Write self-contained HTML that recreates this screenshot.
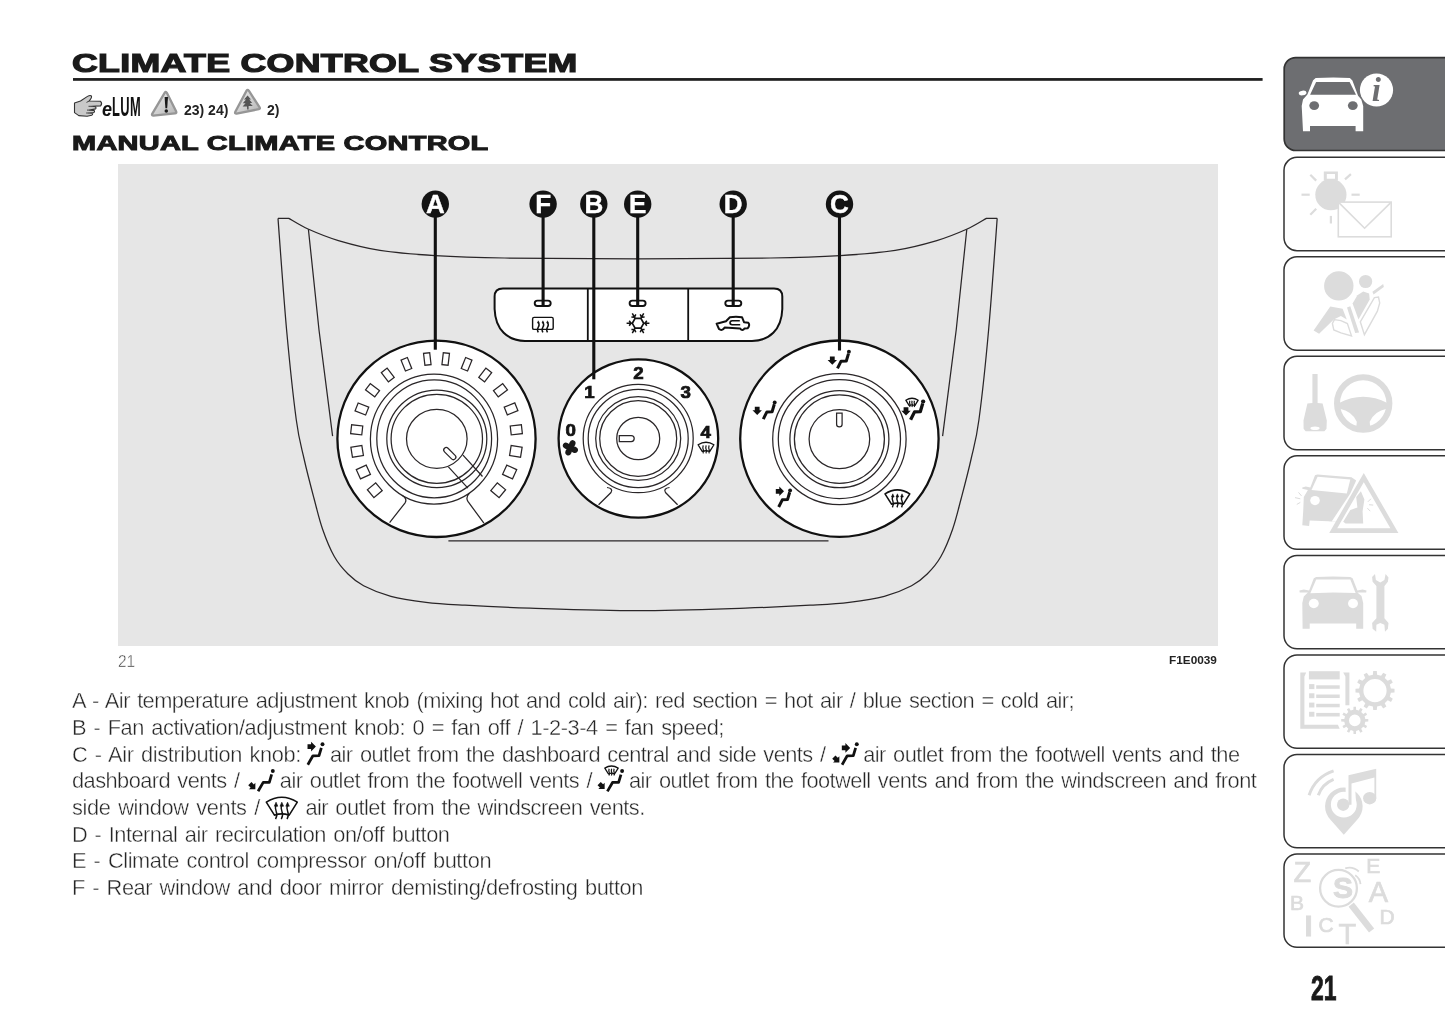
<!DOCTYPE html>
<html lang="en"><head><meta charset="utf-8"><title>Climate control system</title>
<style>
html,body{margin:0;padding:0;background:#fff;}
body{width:1445px;height:1026px;position:relative;overflow:hidden;}
#page{position:absolute;left:0;top:0;width:1445px;height:1026px;will-change:transform;font-family:"Liberation Sans",sans-serif;color:#1a1a1a;}
.abs{position:absolute;white-space:nowrap;}
h1,h2,p{margin:0;padding:0;font-weight:normal;}
#title{left:72.2px;top:47.3px;font-size:25.3px;line-height:32px;font-weight:bold;transform-origin:0 50%;transform:scaleX(1.414);-webkit-text-stroke:1.15px #1a1a1a;letter-spacing:0.2px;}
#sub{left:71.6px;top:130.3px;font-size:20.6px;line-height:26px;font-weight:bold;transform-origin:0 50%;transform:scaleX(1.405);-webkit-text-stroke:1.0px #1a1a1a;letter-spacing:0.2px;}
#fig{left:118px;top:164px;width:1100px;height:482px;background:#e6e6e6;}
.ref{font-size:14px;line-height:16px;font-weight:bold;color:#222;}
.cap{font-size:17.2px;line-height:18px;color:#333;-webkit-text-stroke:0.45px #fff;transform-origin:0 50%;transform:scaleX(0.9);}
.code{font-size:11.8px;line-height:14px;font-weight:bold;color:#222;}
.ln{font-size:21.80px;line-height:26px;color:#262626;word-spacing:1.8px;-webkit-text-stroke:0.4px #fff;}
#pn{left:1310.8px;top:968.4px;font-size:35px;line-height:40px;font-weight:bold;transform-origin:0 50%;transform:scaleX(0.655);color:#1a1a1a;-webkit-text-stroke:0.9px #1a1a1a;}
#elum-e{left:101.6px;top:97.2px;font-size:20.5px;line-height:24px;font-weight:bold;font-style:italic;transform-origin:0 50%;transform:scaleX(0.88);color:#111;}
#elum{left:112.3px;top:91.1px;font-size:28px;line-height:32px;font-weight:bold;transform-origin:0 50%;transform:scaleX(0.46);color:#111;letter-spacing:1px;}
svg{position:absolute;left:0;top:0;overflow:visible;}
</style></head>
<body>
<div id="page">
<h1 id="title" class="abs">CLIMATE CONTROL SYSTEM</h1>
<span id="elum-e" class="abs">e</span><span id="elum" class="abs">LUM</span>
<span class="abs ref" style="left:184px;top:101.5px">23) 24)</span>
<span class="abs ref" style="left:267px;top:101.5px">2)</span>
<h2 id="sub" class="abs">MANUAL CLIMATE CONTROL</h2>
<div id="fig" class="abs"></div>
<span class="abs cap" style="left:117.6px;top:651.8px">21</span>
<span class="abs code" style="left:1169px;top:653px">F1E0039</span>
<p class="abs ln" style="left:72.0px;top:688.45px;letter-spacing:-0.559px">A - Air temperature adjustment knob (mixing hot and cold air): red section = hot air / blue section = cold air;</p>
<p class="abs ln" style="left:72.0px;top:715.08px;letter-spacing:-0.449px">B - Fan activation/adjustment knob: 0 = fan off / 1-2-3-4 = fan speed;</p>
<p class="abs ln" style="left:72.0px;top:741.71px;letter-spacing:-0.373px">C - Air distribution knob:</p>
<p class="abs ln" style="left:330.0px;top:741.71px;letter-spacing:-0.548px">air outlet from the dashboard central and side vents /</p>
<p class="abs ln" style="left:863.2px;top:741.71px;letter-spacing:-0.543px">air outlet from the footwell vents and the</p>
<p class="abs ln" style="left:72.0px;top:768.34px;letter-spacing:-0.552px">dashboard vents /</p>
<p class="abs ln" style="left:279.8px;top:768.34px;letter-spacing:-0.512px">air outlet from the footwell vents /</p>
<p class="abs ln" style="left:629.0px;top:768.34px;letter-spacing:-0.546px">air outlet from the footwell vents and from the windscreen and front</p>
<p class="abs ln" style="left:72.0px;top:794.97px;letter-spacing:-0.342px">side window vents /</p>
<p class="abs ln" style="left:305.4px;top:794.97px;letter-spacing:-0.536px">air outlet from the windscreen vents.</p>
<p class="abs ln" style="left:72.0px;top:821.60px;letter-spacing:-0.498px">D - Internal air recirculation on/off button</p>
<p class="abs ln" style="left:72.0px;top:848.23px;letter-spacing:-0.403px">E - Climate control compressor on/off button</p>
<p class="abs ln" style="left:72.0px;top:874.86px;letter-spacing:-0.422px">F - Rear window and door mirror demisting/defrosting button</p>
<div id="pn" class="abs">21</div>
<svg id="figsvg" width="1445" height="1026" viewBox="0 0 1445 1026">
<defs>
<g id="seat"><polyline points="0,0 3.6,-7.2 8.8,-7.4 11,-14.8" fill="none" stroke="#111" stroke-width="3" stroke-linejoin="round" stroke-linecap="butt"/><circle cx="11.4" cy="-16.6" r="1.95" fill="#111"/></g>
<g id="seatT"><polyline points="0,0 4.2,-7.3 9.2,-7.4 11.1,-13.8" fill="none" stroke="#111" stroke-width="2.25" stroke-linejoin="round" stroke-linecap="butt"/><circle cx="12.05" cy="-16.7" r="1.6" fill="#111"/></g>
<path id="arrD" d="M-2.4 -4.1H2.4V-0.6H4.7L0 4.1L-4.7 -0.6H-2.4Z" fill="#111"/>
<g id="wind" fill="none" stroke="#111"><path d="M-12.4 4Q0 -3.9 12.4 4L5.9 14.4Q0 12.3 -5.9 14.4Z" stroke-width="1.55" vector-effect="non-scaling-stroke" stroke-linejoin="round"/><path d="M-5 17.5c1.6 -2.6 1.3 -4.2 0.5 -6s-0.9 -3.4 -0.1 -5.6M-0.4 17.5c1.6 -2.6 1.3 -4.2 0.5 -6s-0.9 -3.4 -0.1 -5.6M4.2 17.5c1.6 -2.6 1.3 -4.2 0.5 -6s-0.9 -3.4 -0.1 -5.6" stroke-width="1.45" vector-effect="non-scaling-stroke"/><path d="M-6 7.2L-4.6 4L-3.2 7.2ZM-1.4 7.2L0 4L1.4 7.2ZM3.2 7.2L4.6 4L6 7.2Z" fill="#111" stroke-width="0.5"/></g>
<g id="windS" fill="none" stroke="#111"><path d="M-12.4 4Q0 -3.9 12.4 4L5.9 14.4Q0 12.3 -5.9 14.4Z" stroke-width="1.3" vector-effect="non-scaling-stroke" stroke-linejoin="round"/><path d="M-4.8 17.5c1.6 -2.6 1.3 -4.2 0.5 -6s-0.9 -3.4 -0.1 -6.4M-0.2 17.5c1.6 -2.6 1.3 -4.2 0.5 -6s-0.9 -3.4 -0.1 -6.4M4.4 17.5c1.6 -2.6 1.3 -4.2 0.5 -6s-0.9 -3.4 -0.1 -6.4" stroke-width="1.2" vector-effect="non-scaling-stroke"/></g>
</defs>
<g fill="none" stroke="#2a2628" stroke-width="1.25">
<path d="M278.0 218.4 C279.4 237.0 283.6 296.4 286.6 330.0 C289.7 363.6 293.4 398.5 296.3 420.0 C299.2 441.5 301.2 446.0 304.1 459.0 C307.0 472.0 310.8 486.3 313.9 498.0 C317.0 509.7 319.2 519.5 322.6 529.2 C326.0 539.0 330.1 549.0 334.3 556.5 C338.5 564.0 343.1 569.1 348.0 574.0 C352.9 578.9 356.5 582.0 363.6 585.7 C370.8 589.4 380.5 593.6 390.9 596.4 C401.3 599.2 413.6 600.8 426.0 602.3 C438.4 603.8 447.7 604.2 465.0 605.2 C482.3 606.2 501.2 607.2 530.0 608.1 C558.8 609.0 601.7 610.6 637.6 610.6 C673.5 610.6 716.4 609.0 745.2 608.1 C774.0 607.2 792.9 606.2 810.2 605.2 C827.5 604.2 836.9 603.8 849.2 602.3 C861.6 600.8 873.9 599.2 884.3 596.4 C894.7 593.6 904.5 589.4 911.6 585.7 C918.8 582.0 922.3 578.9 927.2 574.0 C932.1 569.1 936.7 564.0 940.9 556.5 C945.1 549.0 949.2 539.0 952.6 529.2 C956.0 519.5 958.2 509.7 961.3 498.0 C964.4 486.3 968.2 472.0 971.1 459.0 C974.0 446.0 976.0 441.5 978.9 420.0 C981.8 398.5 985.6 363.6 988.6 330.0 C991.6 296.4 995.8 237.0 997.2 218.4"/>
<path d="M278 218.4L288.8 218.4 L288.8 218.4 C292.1 220.2 300.3 225.6 308.6 229.3 C316.9 233.0 326.5 237.1 338.4 240.6 C350.3 244.1 363.9 247.9 380.0 250.4 C396.1 252.9 414.2 254.3 435.0 255.6 C455.8 256.9 470.7 257.5 504.5 258.0 C538.3 258.5 593.2 258.8 637.6 258.8 C682.0 258.8 736.9 258.5 770.7 258.0 C804.5 257.5 819.5 256.9 840.2 255.6 C861.0 254.3 879.1 252.9 895.2 250.4 C911.3 247.9 924.9 244.1 936.8 240.6 C948.7 237.1 958.3 233.0 966.6 229.3 C974.9 225.6 983.1 220.2 986.4 218.4 L997.2 218.4"/>
<path d="M308.4 229.2L319 330L332.6 436.2"/>
<path d="M966.8 229.2L956.2 330L942.6 436.2"/>
<path d="M448.4 540.9L828.5 540.9"/>
</g>
<path d="M503 288.4H774Q782.3 288.4 782.3 296.6V309C781.6 330 769 340.9 752 340.9H525C508 340.9 495.3 330 494.6 309V296.6Q494.6 288.4 503 288.4Z" fill="#fff" stroke="#111" stroke-width="2"/>
<path d="M587.8 288.4V340.9M688.2 288.4V340.9" stroke="#111" stroke-width="1.8" fill="none"/>
<ellipse cx="436.5" cy="438.8" rx="99.1" ry="98.2" fill="#fff" stroke="#111" stroke-width="2.3"/>
<ellipse cx="638.4" cy="438.5" rx="79.8" ry="79.2" fill="#fff" stroke="#111" stroke-width="2.3"/>
<ellipse cx="839.4" cy="438.7" rx="99.2" ry="98.2" fill="#fff" stroke="#111" stroke-width="2.3"/>
<g fill="none" stroke="#2a2628" stroke-width="1.25">
<ellipse cx="434.0" cy="439.1" rx="63.6" ry="65.0"/>
<ellipse cx="434.2" cy="438.8" rx="57.4" ry="59.0"/>
<ellipse cx="436.8" cy="438.8" rx="50.0" ry="48.8"/>
<ellipse cx="436.8" cy="438.8" rx="45.7" ry="44.5"/>
<ellipse cx="436.8" cy="438.8" rx="30.3" ry="29.5"/>
<rect x="424.2" y="353.0" width="6.2" height="12.0" transform="rotate(-6.6 427.3 359.0)"/>
<rect x="403.0" y="358.4" width="6.8" height="11.8" transform="rotate(-22.0 406.4 364.3)"/>
<rect x="384.1" y="369.2" width="7.3" height="11.7" transform="rotate(-37.4 387.7 375.0)"/>
<rect x="368.6" y="384.5" width="7.9" height="11.6" transform="rotate(-52.8 372.5 390.3)"/>
<rect x="357.7" y="403.3" width="8.4" height="11.4" transform="rotate(-68.2 361.9 409.0)"/>
<rect x="352.2" y="424.2" width="9.0" height="11.2" transform="rotate(-83.6 356.7 429.8)"/>
<rect x="352.1" y="445.8" width="10.2" height="11.1" transform="rotate(-99.0 357.2 451.4)"/>
<rect x="358.3" y="466.5" width="10.2" height="10.9" transform="rotate(-114.4 363.4 472.0)"/>
<rect x="369.7" y="484.8" width="10.2" height="10.8" transform="rotate(-129.8 374.8 490.2)"/>
<rect x="442.6" y="353.0" width="6.2" height="12.0" transform="rotate(6.6 445.7 359.0)"/>
<rect x="463.2" y="358.4" width="6.8" height="11.8" transform="rotate(22.0 466.6 364.3)"/>
<rect x="481.6" y="369.2" width="7.3" height="11.7" transform="rotate(37.4 485.3 375.0)"/>
<rect x="496.5" y="384.5" width="7.9" height="11.6" transform="rotate(52.8 500.5 390.3)"/>
<rect x="506.8" y="403.3" width="8.4" height="11.4" transform="rotate(68.2 511.1 409.0)"/>
<rect x="511.8" y="424.2" width="9.0" height="11.2" transform="rotate(83.6 516.3 429.8)"/>
<rect x="510.7" y="445.8" width="10.2" height="11.1" transform="rotate(99.0 515.8 451.4)"/>
<rect x="504.5" y="466.5" width="10.2" height="10.9" transform="rotate(114.4 509.6 472.0)"/>
<rect x="493.1" y="484.8" width="10.2" height="10.8" transform="rotate(129.8 498.2 490.2)"/>
<path d="M401.9 495.2Q407.6 498.6 405.1 502.8L389.6 522.6"/>
<path d="M469.3 493.2Q465.4 497.2 467.9 501.4L483.9 523.2"/>
<rect x="442.3" y="451.1" width="15" height="5" rx="2.5" transform="rotate(45 449.8 453.6)" fill="#fff"/>
<path d="M448.4 466.8L467.9 488.2M463 455.1L482.5 476.5"/>
<ellipse cx="638.2" cy="438.5" rx="55.0" ry="54.2"/>
<ellipse cx="638.2" cy="438.5" rx="50.0" ry="49.2"/>
<ellipse cx="638.2" cy="438.5" rx="42.5" ry="41.9"/>
<ellipse cx="638.2" cy="438.5" rx="38.5" ry="37.9"/>
<ellipse cx="638.2" cy="438.5" rx="21.5" ry="21.2"/>
<path d="M619.3 435.5H631.2Q634.2 435.5 634.2 438.5T631.2 441.6H619.3Z" fill="#fff"/>
<path d="M607 487.5Q613.5 488.5 611 492.5L598.6 504.8"/>
<path d="M669.5 487.5Q663 488.5 665.5 492.5L677.6 504.8"/>
<ellipse cx="839.4" cy="439.1" rx="66.7" ry="65.6"/>
<ellipse cx="839.4" cy="439.1" rx="61.1" ry="59.5"/>
<ellipse cx="839.4" cy="439.1" rx="49.5" ry="48.6"/>
<ellipse cx="839.4" cy="439.1" rx="45.0" ry="44.2"/>
<ellipse cx="839.4" cy="439.1" rx="30.3" ry="29.6"/>
<path d="M836.6 413.2H842.1V424.2Q842.1 426.9 839.35 426.9T836.6 424.2Z" fill="#fff"/>
</g>
<path d="M435.3 204V349.7" stroke="#111" stroke-width="3.1" fill="none"/>
<path d="M543.1 204V305.6" stroke="#111" stroke-width="3.1" fill="none"/>
<path d="M593.8 204V379.3" stroke="#111" stroke-width="3.1" fill="none"/>
<path d="M637.7 204V305.6" stroke="#111" stroke-width="3.1" fill="none"/>
<path d="M733.2 204V305.6" stroke="#111" stroke-width="3.1" fill="none"/>
<path d="M839.5 204V350.4" stroke="#111" stroke-width="3.1" fill="none"/>
<rect x="534.7" y="300.6" width="16" height="5.4" rx="2.7" fill="none" stroke="#111" stroke-width="1.9"/>
<rect x="629.6" y="300.6" width="16" height="5.4" rx="2.7" fill="none" stroke="#111" stroke-width="1.9"/>
<rect x="725.3" y="300.6" width="16" height="5.4" rx="2.7" fill="none" stroke="#111" stroke-width="1.9"/>
<circle cx="435.3" cy="204.1" r="13.7" fill="#141414"/>
<text x="435.3" y="213.3" text-anchor="middle" font-family="'Liberation Sans',sans-serif" font-weight="bold" font-size="26" fill="#fff" stroke="#fff" stroke-width="0.4">A</text>
<circle cx="543.1" cy="204.1" r="13.7" fill="#141414"/>
<text x="543.1" y="213.3" text-anchor="middle" font-family="'Liberation Sans',sans-serif" font-weight="bold" font-size="26" fill="#fff" stroke="#fff" stroke-width="0.4">F</text>
<circle cx="593.8" cy="204.1" r="13.7" fill="#141414"/>
<text x="593.8" y="213.3" text-anchor="middle" font-family="'Liberation Sans',sans-serif" font-weight="bold" font-size="26" fill="#fff" stroke="#fff" stroke-width="0.4">B</text>
<circle cx="637.7" cy="204.1" r="13.7" fill="#141414"/>
<text x="637.7" y="213.3" text-anchor="middle" font-family="'Liberation Sans',sans-serif" font-weight="bold" font-size="26" fill="#fff" stroke="#fff" stroke-width="0.4">E</text>
<circle cx="733.2" cy="204.1" r="13.7" fill="#141414"/>
<text x="733.2" y="213.3" text-anchor="middle" font-family="'Liberation Sans',sans-serif" font-weight="bold" font-size="26" fill="#fff" stroke="#fff" stroke-width="0.4">D</text>
<circle cx="839.5" cy="204.1" r="13.7" fill="#141414"/>
<text x="839.5" y="213.3" text-anchor="middle" font-family="'Liberation Sans',sans-serif" font-weight="bold" font-size="26" fill="#fff" stroke="#fff" stroke-width="0.4">C</text>
<text transform="translate(570.7 436.4) scale(1.13 1)" text-anchor="middle" font-family="'Liberation Sans',sans-serif" font-weight="bold" font-size="16.6" fill="#141414" stroke="#141414" stroke-width="0.7">0</text>
<text transform="translate(589.5 397.8) scale(1.13 1)" text-anchor="middle" font-family="'Liberation Sans',sans-serif" font-weight="bold" font-size="16.6" fill="#141414" stroke="#141414" stroke-width="0.7">1</text>
<text transform="translate(638.5 379.0) scale(1.13 1)" text-anchor="middle" font-family="'Liberation Sans',sans-serif" font-weight="bold" font-size="16.6" fill="#141414" stroke="#141414" stroke-width="0.7">2</text>
<text transform="translate(685.8 397.8) scale(1.13 1)" text-anchor="middle" font-family="'Liberation Sans',sans-serif" font-weight="bold" font-size="16.6" fill="#141414" stroke="#141414" stroke-width="0.7">3</text>
<text transform="translate(705.6 437.9) scale(1.13 1)" text-anchor="middle" font-family="'Liberation Sans',sans-serif" font-weight="bold" font-size="16.6" fill="#141414" stroke="#141414" stroke-width="0.7">4</text>
<g fill="#1a1a1a">
<ellipse cx="574.2" cy="449.6" rx="3.9" ry="3.1" transform="rotate(25 574.2 449.6)"/>
<ellipse cx="568.6" cy="451.6" rx="3.9" ry="3.1" transform="rotate(115 568.6 451.6)"/>
<ellipse cx="566.6" cy="446.0" rx="3.9" ry="3.1" transform="rotate(205 566.6 446.0)"/>
<ellipse cx="572.2" cy="444.0" rx="3.9" ry="3.1" transform="rotate(295 572.2 444.0)"/>
<circle cx="570.4" cy="447.8" r="2.6"/></g>
<use href="#windS" transform="translate(706 442.2) scale(0.64)"/>
<g fill="none" stroke="#111">
<rect x="532.6" y="317.4" width="20.6" height="12" rx="1.5" stroke-width="1.4"/>
<path d="M538.3 332.4q-1.6 -2.8 0 -5.2t0 -4.8M542.9 332.4q-1.6 -2.8 0 -5.2t0 -4.8M547.5 332.4q-1.6 -2.8 0 -5.2t0 -4.8" stroke-width="1.5"/>
<path d="M537.4 323L538.3 320.8L539.2 323ZM542 323L542.9 320.8L543.8 323ZM546.6 323L547.5 320.8L548.4 323Z" fill="#111" stroke-width="0.5"/>
<polygon points="643.7,323.3 640.9,328.2 635.1,328.2 632.3,323.3 635.1,318.4 640.9,318.4" stroke-width="1.7"/>
<path d="M643.7 323.3L649.4 323.3M645.0 323.3L646.8 320.8M645.0 323.3L646.8 325.8M640.9 328.2L643.7 333.2M641.5 329.4L644.6 329.6M641.5 329.4L640.2 332.2M635.1 328.2L632.3 333.2M634.5 329.4L635.8 332.2M634.5 329.4L631.4 329.6M632.3 323.3L626.6 323.3M631.0 323.3L629.2 325.8M631.0 323.3L629.2 320.8M635.1 318.4L632.3 313.4M634.5 317.2L631.4 317.0M634.5 317.2L635.8 314.4M640.9 318.4L643.7 313.4M641.5 317.2L640.2 314.4M641.5 317.2L644.6 317.0" stroke-width="1.5"/>
<path d="M716.6 323.7L726 321.2L729.9 317.2Q736 316.4 742 317.2L744 322.2L748.4 322.8Q750.3 325 747.6 328.3L744.6 328.4Q742.4 331.6 740 328.4L724.6 327.6Q722 331.4 719 329Z" stroke-width="2" stroke-linejoin="round"/>
<path d="M739.8 320.7H732.2Q730 320.9 730 322.8T732.2 324.8H740.2" stroke-width="1.6"/>
</g>
<use href="#seat" x="837.5" y="368.4"/><use href="#arrD" x="832.3" y="360.6"/>
<use href="#seat" x="763.3" y="419.1"/><use href="#arrD" x="757.2" y="410.9"/>
<use href="#seat" transform="translate(910.6 419.8) scale(1.1)"/><use href="#arrD" x="906" y="411.4"/><use href="#windS" transform="translate(912 398.2) scale(0.5)"/>
<use href="#seat" x="778.7" y="507"/><use href="#arrD" transform="translate(779.9 491.3) rotate(-90)"/>
<use href="#wind" x="897.4" y="489.8"/>
<use href="#seatT" transform="translate(307.8 764.7) scale(1.22)"/>
<use href="#arrD" transform="translate(311.7 746.6) rotate(-90) scale(1.02)"/>
<use href="#seatT" transform="translate(842.1 764.7) scale(1.22)"/>
<use href="#arrD" transform="translate(846.0 747.9) rotate(-90) scale(1.02)"/>
<use href="#arrD" transform="translate(836.6 759.8) rotate(-45) scale(0.95)"/>
<use href="#seatT" transform="translate(258.1 791.3) scale(1.22)"/>
<use href="#arrD" transform="translate(252.6 786.4) rotate(-45) scale(0.95)"/>
<use href="#seatT" transform="translate(607.4 791.4) scale(1.22)"/>
<use href="#arrD" transform="translate(601.9 786.3) rotate(-45) scale(0.95)"/>
<use href="#windS" transform="translate(611.5 766) scale(0.54)"/>
<use href="#wind" transform="translate(281.8 797.2) scale(1.25)"/>
</svg>
<svg id="hdr" width="1445" height="1026" viewBox="0 0 1445 1026">
<defs>
<linearGradient id="tg" x1="0" y1="0" x2="1" y2="1"><stop offset="0" stop-color="#f0f0f0"/><stop offset="1" stop-color="#b4b4b4"/></linearGradient>
</defs>
<rect id="rule" x="73" y="78.05" width="1189.6" height="2.75" fill="#1f1f1f"/>
<path d="M74.5 103L80.5 101L87.5 96.4Q90.2 94.8 91.4 96Q92.2 97.4 89.2 101L100.6 101.3Q102.6 103.4 100.6 105.9L92.1 106.3L95.4 106.8Q96.6 108 95.6 108.9L89.6 110.1L94.2 110.5Q95 111.8 93.7 112.6L88.8 113L92.5 113.4Q93 114.6 91.7 115.2L87.1 116.3L78.8 115.6L74.5 112.6Z" fill="#c9c9c9" stroke="#333" stroke-width="1.1" stroke-linejoin="round"/>
<path d="M89.2 101L86.5 102.4M92.1 106.3H88.5M89.6 110.1H87M88.8 113H86.2" stroke="#333" stroke-width="0.9" fill="none"/>
<path d="M164.8 92.6Q165.8 91.2 166.8 92.8L176.2 111.6Q176.8 113.2 175 113.4L153.4 115.6Q151.4 115.6 152.2 113.8Z" fill="url(#tg)" stroke="#969696" stroke-width="2.3" stroke-linejoin="round"/>
<path d="M164.6 97H168L167.2 108.2H165.4Z" fill="#1a1a1a"/><circle cx="166.3" cy="111" r="1.75" fill="#1a1a1a"/>
<path d="M246.6 90.6Q247.6 89 248.8 90.6L259.6 107.4Q260.4 108.8 258.8 109.2L236.6 113.6Q234.6 113.8 235.2 112Z" fill="url(#tg)" stroke="#969696" stroke-width="2.3" stroke-linejoin="round"/>
<path d="M247.6 95.4L244 99.6H246L242.8 103.2H245.6L242.6 106.4H247L247.2 109.6H248.6L248.6 106H252.8L249.8 103H252.2L249.2 99.4H251Z" fill="#555"/>
</svg>
<svg id="side" width="1445" height="1026" viewBox="0 0 1445 1026">
<rect x="1284.2" y="57.6" width="200" height="92.9" rx="11.5" fill="#6d6e71" stroke="#333" stroke-width="1.7"/>
<rect x="1284" y="157.30" width="200" height="93.4" rx="13" fill="#fff" stroke="#333" stroke-width="1.5"/>
<rect x="1284" y="256.82" width="200" height="93.4" rx="13" fill="#fff" stroke="#333" stroke-width="1.5"/>
<rect x="1284" y="356.34" width="200" height="93.4" rx="13" fill="#fff" stroke="#333" stroke-width="1.5"/>
<rect x="1284" y="455.86" width="200" height="93.4" rx="13" fill="#fff" stroke="#333" stroke-width="1.5"/>
<rect x="1284" y="555.38" width="200" height="93.4" rx="13" fill="#fff" stroke="#333" stroke-width="1.5"/>
<rect x="1284" y="654.90" width="200" height="93.4" rx="13" fill="#fff" stroke="#333" stroke-width="1.5"/>
<rect x="1284" y="754.42" width="200" height="93.4" rx="13" fill="#fff" stroke="#333" stroke-width="1.5"/>
<rect x="1284" y="853.94" width="200" height="93.4" rx="13" fill="#fff" stroke="#333" stroke-width="1.5"/>
<path d="M1303.0 131.2 L1310.0 131.2 L1310.0 126.1 L1355.6 126.1 L1355.6 131.2 L1363.2 131.2 L1363.2 105.9 L1361.3 99.5 L1358.1 95.7 L1352.4 80.5 L1349.9 78.0 L1333.4 77.4 L1315.7 78.0 L1313.1 80.3 L1307.4 94.5 L1303.0 99.5 L1301.7 105.9Z" fill="#fff"/>
<path d="M1316.1 82.1 L1349.6 82.1 L1356.0 94.7 L1310.1 94.7Z" fill="#6d6e71"/>
<ellipse cx="1302.6" cy="93.0" rx="3.9" ry="2.3" transform="rotate(-8 1302.6 93.0)" fill="#fff"/>
<ellipse cx="1314.2" cy="105.6" rx="4.9" ry="4.4" fill="#6d6e71"/>
<ellipse cx="1352.8" cy="105.6" rx="4.9" ry="4.4" fill="#6d6e71"/>
<circle cx="1376.5" cy="90" r="16.6" fill="#fff"/>
<text x="1376.3" y="100.5" text-anchor="middle" font-family="'Liberation Serif',serif" font-style="italic" font-weight="bold" font-size="33" fill="#6d6e71">i</text>
<g fill="#dcdcdc" stroke="none">
<circle cx="1330.9" cy="194.7" r="15.6"/>
<path d="M1323.8 171.4 L1337.9 171.4 L1337.9 180.8 L1323.8 180.8Z M1326.8 174.1H1335.0V178.8H1326.8Z" fill-rule="evenodd"/>
</g>
<g stroke="#dcdcdc" stroke-width="2.2" fill="none">
<path d="M1310.3 174.7L1316.2 180.6"/>
<path d="M1350.9 174.1L1345.0 179.4"/>
<path d="M1301.5 194.7L1309.7 194.7"/>
<path d="M1351.5 194.7L1359.7 194.7"/>
<path d="M1316.2 208.8L1310.3 214.7"/>
<path d="M1330.9 215.9L1330.9 223.5"/>
<rect x="1338.3" y="202.1" width="52.9" height="34.7" fill="#fff" stroke-width="1.6"/>
<path d="M1339.1 202.9L1364.6 228.2L1390.5 202.9" stroke-width="1.6"/>
</g>
<g fill="#dcdcdc">
<circle cx="1338.8" cy="285.9" r="14.7"/>
<circle cx="1365.6" cy="281.5" r="6.6"/>
<path d="M1357.4 295.3 L1363.2 291.4 L1369.1 293.5 L1369.7 299.4 L1358.5 319.4 L1352.6 303.5Z"/>
<path d="M1330.3 306.5 L1342.6 308.8 L1346.8 319.4 L1340.9 315.9 L1333.8 319.4 L1319.1 333.8 L1313.6 330.6Z"/>
<path d="M1347.0 307.6 L1350.3 306.2 L1359.1 332.4 L1355.2 333.1Z"/>
<path d="M1372.4 291.8 L1383.2 284.1 L1383.8 287.1 L1373.6 294.5Z"/>
</g>
<g fill="none" stroke="#dcdcdc" stroke-width="1.4">
<path d="M1374.4 297.6 L1378.5 297.1 L1379.7 302.9 L1377.4 311.2 L1364.4 334.7 L1360.3 321.8Z"/>
<path d="M1334.4 319.6 L1340.9 320.6 L1347.4 323.5 L1351.5 335.9 L1340.9 332.9 L1333.8 330.0 L1332.4 323.5Z"/>
</g>
<g fill="#dcdcdc">
<path d="M1312.4 374.1 L1317.6 374.1 L1317.6 402.9 L1322.6 403.5 L1326.8 420.6 L1326.5 428.8 L1324.4 431.2 L1305.6 431.2 L1303.6 428.8 L1303.5 420.6 L1307.4 403.5 L1312.4 402.9Z"/>
</g>
<ellipse cx="1315.0" cy="428.2" rx="4.6" ry="1.8" fill="#fff"/>
<circle cx="1363.2" cy="403.5" r="26.2" fill="none" stroke="#dcdcdc" stroke-width="6"/>
<path d="M1339.1 402.9 Q1363.2 390.6 1387.4 402.9 L1386.8 408.8 Q1374.4 411.2 1369.7 421.8 L1370.5 431.2 L1355.9 431.2 L1356.8 421.8 Q1352.1 411.2 1339.7 408.8 Z" fill="#dcdcdc"/>
<g fill="#dcdcdc">
<path d="M1302.3 525.3 L1309.1 525.9 L1309.7 520.6 L1340.9 521.8 L1331.5 521.8 L1350.3 493.5 L1356.2 480.6 L1351.5 477.3 L1317.4 474.5 L1315.0 475.3 L1310.3 487.6 L1305.8 486.5 L1302.3 487.4 L1302.3 488.8 L1307.9 490.0 L1303.8 497.1 L1303.2 511.2Z"/>
</g>
<path d="M1317.6 476.8 L1350.3 479.4 L1346.8 493.5 L1311.5 490.0Z" fill="#fff"/>
<ellipse cx="1315.0" cy="500.6" rx="4.8" ry="4.6" fill="#fff"/>
<path d="M1363.8 477.6 L1394.4 530.6 L1333.2 530.6Z" fill="#fff" stroke="#dcdcdc" stroke-width="4.6" stroke-linejoin="miter"/>
<path d="M1343.2 521.8 L1350.3 510.0 L1357.4 507.6 L1356.2 497.1 L1360.9 491.2 L1364.4 499.4 L1362.6 511.2 L1363.2 523.5 L1345.6 523.5Z" fill="#dcdcdc"/>
<g stroke="#dcdcdc" stroke-width="1" fill="none">
<path d="M1298.5 492.4L1301.5 495.9"/>
<path d="M1295.0 497.6L1300.3 498.8"/>
<path d="M1296.8 504.4L1300.3 502.4"/>
<path d="M1367.9 501.8L1370.9 498.8"/>
<path d="M1369.1 504.7L1373.2 505.1"/>
<path d="M1367.4 508.2L1370.3 511.2"/>
</g>
<g fill="#dcdcdc">
<path d="M1302.6 628.8 L1309.7 628.8 L1309.7 623.5 L1356.2 623.5 L1356.2 628.8 L1363.2 628.8 L1363.2 602.9 L1361.5 595.9 L1357.4 592.4 L1366.2 592.4 L1366.5 590.6 L1362.6 589.4 L1357.4 590.6 L1352.6 578.2 L1350.3 577.1 L1333.2 576.5 L1316.2 577.1 L1313.8 578.2 L1309.1 590.6 L1303.8 589.4 L1299.4 590.6 L1299.7 592.4 L1307.9 592.6 L1303.8 596.5 L1302.3 602.9Z"/>
<path d="M1376.4 585.3 L1384.4 585.3 L1384.4 618.2 L1388.5 622.9 L1387.9 628.8 L1385.0 631.8 L1384.4 624.7 L1380.3 622.9 L1376.4 624.7 L1376.2 631.8 L1372.6 628.8 L1372.1 622.9 L1376.4 618.2Z"/>
<path d="M1376.4 585.9 L1372.6 581.8 L1372.1 577.1 L1375.0 574.1 L1375.9 580.0 L1380.3 582.4 L1384.4 580.0 L1385.6 574.1 L1388.5 577.6 L1387.9 581.8 L1384.4 585.9Z"/>
</g>
<path d="M1316.2 579.4 L1350.3 579.4 L1355.6 592.9 L1333.2 592.4 L1310.3 593.3Z" fill="#fff"/>
<ellipse cx="1313.8" cy="603.5" rx="5" ry="4.7" fill="#fff"/>
<ellipse cx="1353.0" cy="603.5" rx="5" ry="4.7" fill="#fff"/>
<g fill="#dcdcdc">
<path d="M1300.3 672.4 L1306.2 672.4 L1304.4 676.5 L1304.4 724.7 L1337.9 724.7 L1339.7 728.8 L1300.3 728.8Z"/>
<path d="M1343.2 672.4 L1349.4 672.4 L1349.4 705.3 L1345.4 705.3 L1345.4 676.5Z"/>
<path d="M1308.9 671.2 L1339.7 671.2 L1339.7 679.4 L1308.9 679.4Z"/>
<path d="M1309.1 684.1 L1314.4 684.1 L1314.4 689.1 L1309.1 689.1Z"/>
<path d="M1316.2 685.3 L1339.7 685.3 L1339.7 688.8 L1316.2 688.8Z"/>
<path d="M1309.1 693.3 L1314.4 693.3 L1314.4 698.2 L1309.1 698.2Z"/>
<path d="M1316.2 694.5 L1339.7 694.5 L1339.7 698.0 L1316.2 698.0Z"/>
<path d="M1309.1 702.6 L1314.4 702.6 L1314.4 707.5 L1309.1 707.5Z"/>
<path d="M1316.2 703.8 L1339.7 703.8 L1339.7 707.3 L1316.2 707.3Z"/>
<path d="M1309.1 711.8 L1314.4 711.8 L1314.4 716.7 L1309.1 716.7Z"/>
<path d="M1316.2 712.9 L1339.7 712.9 L1339.7 716.5 L1316.2 716.5Z"/>
<path d="M1390.9 688.5 L1394.5 688.7 L1394.5 692.4 L1390.9 692.7 L1389.8 696.7 L1392.8 698.7 L1391.0 701.9 L1387.7 700.3 L1384.7 703.3 L1386.4 706.6 L1383.2 708.4 L1381.1 705.4 L1377.1 706.5 L1376.8 710.1 L1373.2 710.1 L1372.9 706.5 L1368.9 705.4 L1366.8 708.4 L1363.6 706.6 L1365.3 703.3 L1362.3 700.3 L1359.0 701.9 L1357.2 698.7 L1360.2 696.7 L1359.1 692.7 L1355.5 692.4 L1355.5 688.7 L1359.1 688.5 L1360.2 684.5 L1357.2 682.4 L1359.0 679.2 L1362.3 680.8 L1365.3 677.9 L1363.6 674.6 L1366.8 672.8 L1368.9 675.8 L1372.9 674.7 L1373.2 671.1 L1376.8 671.1 L1377.1 674.7 L1381.1 675.8 L1383.2 672.8 L1386.4 674.6 L1384.7 677.9 L1387.7 680.8 L1391.0 679.2 L1392.8 682.4 L1389.8 684.5Z M1363.4 690.6a11.6 11.6 0 1 0 23.2 0a11.6 11.6 0 1 0 -23.2 0Z" fill-rule="evenodd"/>
<path d="M1365.3 719.0 L1368.3 719.1 L1368.3 721.6 L1365.3 721.7 L1364.6 724.4 L1367.1 726.0 L1365.9 728.2 L1363.2 726.8 L1361.2 728.8 L1362.6 731.4 L1360.4 732.7 L1358.8 730.1 L1356.1 730.9 L1356.0 733.9 L1353.5 733.9 L1353.4 730.9 L1350.7 730.1 L1349.1 732.7 L1346.9 731.4 L1348.3 728.8 L1346.4 726.8 L1343.7 728.2 L1342.4 726.0 L1345.0 724.4 L1344.3 721.7 L1341.2 721.6 L1341.2 719.1 L1344.3 719.0 L1345.0 716.3 L1342.4 714.7 L1343.7 712.5 L1346.4 713.9 L1348.3 711.9 L1346.9 709.3 L1349.1 708.0 L1350.7 710.6 L1353.4 709.8 L1353.5 706.8 L1356.0 706.8 L1356.1 709.8 L1358.8 710.6 L1360.4 708.0 L1362.6 709.3 L1361.2 711.9 L1363.2 713.9 L1365.9 712.5 L1367.1 714.7 L1364.6 716.3Z M1349.0 720.4a5.8 5.8 0 1 0 11.6 0a5.8 5.8 0 1 0 -11.6 0Z" fill-rule="evenodd"/>
</g>
<g fill="#dcdcdc">
<path d="M1330.3 819.4 A18.8 18.8 0 1 1 1357.4 819.4 L1343.8 834.7 Z"/>
</g>
<circle cx="1343.8" cy="804.7" r="12.9" fill="#fff"/>
<path d="M1345.6 784.1 L1355.0 785.3 L1356.2 805.3 L1345.6 805.3Z" fill="#fff"/>
<g fill="#dcdcdc">
<circle cx="1343.2" cy="804.7" r="6.2"/>
<ellipse cx="1369.7" cy="798.2" rx="6.6" ry="6.2"/>
<path d="M1348.5 775.3 L1376.2 768.8 L1376.2 798.2 L1374.4 798.2 L1374.4 777.6 L1351.5 783.5 L1351.5 804.7 L1348.5 804.7Z"/>
</g>
<g fill="none" stroke="#dcdcdc" stroke-width="3">
<path d="M1309.1 795.3 Q1315.0 777.1 1333.6 770.9"/>
<path d="M1318.3 795.3 Q1322.1 784.1 1333.6 779.4"/>
</g>
<text x="1302.3" y="882.4" text-anchor="middle" font-family="'Liberation Sans',sans-serif" font-size="29.0" fill="#dcdcdc" stroke="#dcdcdc" stroke-width="0.7">Z</text>
<text x="1373.2" y="873.2" text-anchor="middle" font-family="'Liberation Sans',sans-serif" font-size="21.0" fill="#dcdcdc" stroke="#dcdcdc" stroke-width="0.7">E</text>
<text x="1378.5" y="902.3" text-anchor="middle" font-family="'Liberation Sans',sans-serif" font-size="29.0" fill="#dcdcdc" stroke="#dcdcdc" stroke-width="0.7">A</text>
<text x="1297.0" y="909.9" text-anchor="middle" font-family="'Liberation Sans',sans-serif" font-size="21.0" fill="#dcdcdc" stroke="#dcdcdc" stroke-width="0.7">B</text>
<text x="1387.0" y="923.8" text-anchor="middle" font-family="'Liberation Sans',sans-serif" font-size="21.0" fill="#dcdcdc" stroke="#dcdcdc" stroke-width="0.7">D</text>
<text x="1308.5" y="935.8" text-anchor="middle" font-family="'Liberation Sans',sans-serif" font-size="29.0" font-weight="bold" fill="#dcdcdc" stroke="#dcdcdc" stroke-width="0.9">I</text>
<text x="1326.1" y="932.3" text-anchor="middle" font-family="'Liberation Sans',sans-serif" font-size="21.0" fill="#dcdcdc" stroke="#dcdcdc" stroke-width="0.7">C</text>
<text x="1347.3" y="944.1" text-anchor="middle" font-family="'Liberation Sans',sans-serif" font-size="29.0" fill="#dcdcdc" stroke="#dcdcdc" stroke-width="0.7">T</text>
<text x="1342.9" y="897.9" text-anchor="middle" font-family="'Liberation Sans',sans-serif" font-size="30.0" font-weight="bold" fill="#dcdcdc" stroke="#dcdcdc" stroke-width="0.9">S</text>
<circle cx="1338.5" cy="888.2" r="18.4" fill="none" stroke="#dcdcdc" stroke-width="2.3"/>
<path d="M1351.2 904.6L1371.6 930.5" stroke="#dcdcdc" stroke-width="6.6" stroke-linecap="butt"/>
<path d="M1345.2 868.3Q1352.6 865.8 1358.8 871.5M1355.2 875.3Q1360.0 878.5 1360.5 884.2" fill="none" stroke="#dcdcdc" stroke-width="1.8"/>
</svg>
</div>
</body></html>
